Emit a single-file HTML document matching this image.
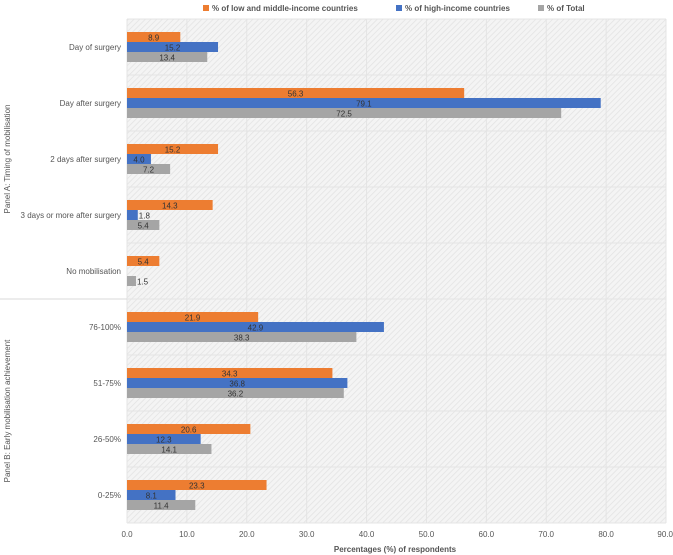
<!DOCTYPE html>
<html><head><meta charset="utf-8"><style>
body{margin:0;background:#fff;}
svg{display:block;font-family:"Liberation Sans",Arial,sans-serif;}
</style></head><body>
<svg id="chart" width="673" height="555">
<defs>
<pattern id="hatch" width="4" height="4" patternUnits="userSpaceOnUse" patternTransform="rotate(45)">
<rect width="4" height="4" fill="#f4f4f4"/>
<line x1="0" y1="0" x2="0" y2="4" stroke="#e2e2e2" stroke-width="1.5"/>
</pattern>
</defs>
<g id="legend" font-size="8" font-weight="bold" fill="#555">
<g><rect x="203" y="5" width="6" height="6" fill="#ED7D31"/><text x="212" y="11">% of low and middle-income countries</text></g>
<g><rect x="396" y="5" width="6" height="6" fill="#4472C4"/><text x="405" y="11">% of high-income countries</text></g>
<g><rect x="538" y="5" width="6" height="6" fill="#A5A5A5"/><text x="547" y="11">% of Total</text></g>
</g>
<rect x="127" y="19" width="539" height="504" fill="url(#hatch)"/>
<g id="grid"></g>
<g id="bars"></g>
<g id="labels"></g>
<g id="axis"></g>
<text x="395" y="552" font-size="8" font-weight="bold" fill="#555" text-anchor="middle">Percentages (%) of respondents</text>
<text transform="translate(10,159) rotate(-90)" font-size="8" fill="#555" text-anchor="middle">Panel A: Timing of mobilisation</text>
<text transform="translate(10,411) rotate(-90)" font-size="8" fill="#555" text-anchor="middle">Panel B: Early mobilisation achievement</text>
<line x1="0" y1="299" x2="127" y2="299" stroke="#d9d9d9"/>
</svg>
<script>
const categories=["Day of surgery","Day after surgery","2 days after surgery","3 days or more after surgery","No mobilisation","76-100%","51-75%","26-50%","0-25%"];
const lmic=[8.9,56.3,15.2,14.3,5.4,21.9,34.3,20.6,23.3];
const hic=[15.2,79.1,4.0,1.8,0,42.9,36.8,12.3,8.1];
const total=[13.4,72.5,7.2,5.4,1.5,38.3,36.2,14.1,11.4];
const ticks=[0,10,20,30,40,50,60,70,80,90];
const NS="http://www.w3.org/2000/svg";
const X0=127,X1=666,Y0=19,BAND=56;
function xs(v){return X0+(X1-X0)*v/90;}
function yc(i){return Y0+BAND*i+BAND/2;}
function mk(t,a,p){const e=document.createElementNS(NS,t);for(const k in a)e.setAttribute(k,a[k]);p.appendChild(e);return e;}
const grid=document.getElementById('grid'),bars=document.getElementById('bars'),labels=document.getElementById('labels'),axis=document.getElementById('axis');
ticks.forEach((t,k)=>{
 const l=mk('line',{x1:xs(t),x2:xs(t),y1:Y0,y2:Y0+BAND*9,stroke:'#e4e4e4'},grid);
 
 
 const last=k===ticks.length-1;
 const tx=mk('text',{x:last?673:xs(t),y:537,'font-size':8,fill:'#555','text-anchor':last?'end':'middle'},axis);
 tx.textContent=t.toFixed(1);
 
 
});
for(let i=0;i<=9;i++){
 const l=mk('line',{x1:X0,x2:X1,y1:Y0+BAND*i,y2:Y0+BAND*i,stroke:'#e4e4e4'},grid);
 
 
}
const series=[[lmic,'#ED7D31',-10,'lmic'],[hic,'#4472C4',0,'hic'],[total,'#A5A5A5',10,'total']];
categories.forEach((c,i)=>{
 const t=mk('text',{x:121,y:yc(i)+3,'font-size':8,fill:'#555','text-anchor':'end'},labels);
 t.textContent=c;
 
 
 series.forEach(([arr,col,off,nm])=>{
  const v=arr[i];
  if(!v)return;
  const y=yc(i)+off;
  const r=mk('rect',{x:X0,y:y-5,width:xs(v)-X0,height:10,fill:col},bars);
  
  
  const wl=xs(v)-X0;
  const lx=wl<16?xs(v)+1:X0+wl/2;
  const vt=mk('text',{x:lx,y:y+3.5,'font-size':8,fill:'#333','text-anchor':wl<16?'start':'middle'},labels);
  vt.textContent=v.toFixed(1);
  
  
 });
});
</script>
</body></html>
